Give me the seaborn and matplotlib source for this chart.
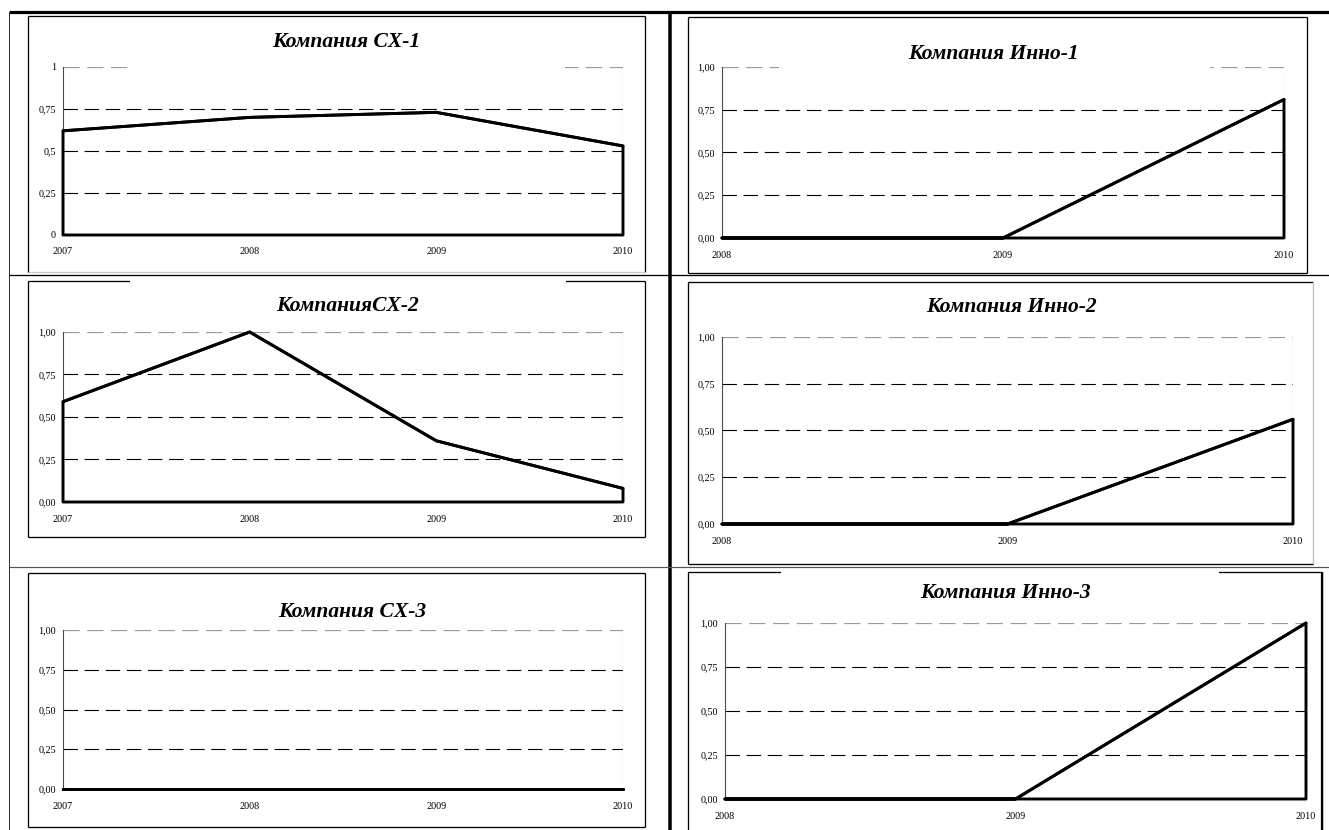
import matplotlib
matplotlib.use("Agg")
import matplotlib.pyplot as plt
from matplotlib.lines import Line2D
from matplotlib.patches import Rectangle
import pandas as pd
import seaborn as sns

# ---- data -------------------------------------------------------------
years_cx = [2007, 2008, 2009, 2010]
years_inno = [2008, 2009, 2010]

cx1 = [0.62, 0.70, 0.73, 0.53]
cx2 = [0.59, 1.00, 0.36, 0.08]
cx3 = [0.00, 0.00, 0.00, 0.00]
inno1 = [0.00, 0.00, 0.81]
inno2 = [0.00, 0.00, 0.56]
inno3 = [0.00, 0.00, 1.00]

title_cx1 = "Компания CX-1"
title_cx2 = "КомпанияCX-2"
title_cx3 = "Компания CX-3"
title_inno1 = "Компания Инно-1"
title_inno2 = "Компания Инно-2"
title_inno3 = "Компания Инно-3"

y_ticks = [0, 0.25, 0.5, 0.75, 1.0]
y_labels_short = ["0", "0,25", "0,5", "0,75", "1"]
y_labels_full = ["0,00", "0,25", "0,50", "0,75", "1,00"]

# ---- style ------------------------------------------------------------
sns.set_style("white")
plt.rcParams["font.family"] = ["Liberation Serif", "DejaVu Serif"]
plt.rcParams["text.color"] = "black"
plt.rcParams["xtick.color"] = "black"
plt.rcParams["ytick.color"] = "black"

W, H = 1329, 830
fig = plt.figure(figsize=(W / 100, H / 100), dpi=100)
fig.patch.set_facecolor("white")

DASH = (0, (13, 6))


def fx(x):
    return x / W


def fy(y):
    return 1 - y / H


def pt(px):
    return px * 0.72


def seg(x0, y0, x1, y1, lw, color="black", z=2):
    fig.add_artist(Line2D([fx(x0), fx(x1)], [fy(y0), fy(y1)], lw=pt(lw),
                          color=color, solid_capstyle="butt", zorder=z))


def box(x0, y0, x1, y1, colors=("black", "black", "black", "black"), lw=1.3):
    top, right, bottom, left = colors
    seg(x0, y0, x1, y0, lw, top)
    seg(x1, y0, x1, y1, lw, right)
    seg(x0, y1, x1, y1, lw, bottom)
    seg(x0, y0, x0, y1, lw, left)


def blank(x0, y0, x1, y1):
    fig.add_artist(Rectangle((fx(x0), fy(y1)), (x1 - x0) / W, (y1 - y0) / H,
                             transform=fig.transFigure, facecolor="white",
                             edgecolor="none", zorder=3))


def panel(rect, years, values, ylabels, title, title_xy):
    x0, y0, x1, y1 = rect
    ax = fig.add_axes([fx(x0), fy(y1), (x1 - x0) / W, (y1 - y0) / H])
    ax.set_facecolor("none")
    df = pd.DataFrame({"Год": years, "Значение": values})

    # gridlines and plot-area border
    for g in y_ticks[1:-1]:
        ax.axhline(g, color="black", lw=0.8, ls=DASH, zorder=1)
    ax.axhline(1.0, color="#9a9a9a", lw=0.9, ls=DASH, zorder=1)
    ax.axvline(years[-1], color="#b4b4b4", lw=0.8, zorder=1)

    # area outline: baseline, end edges and the series line
    ax.fill_between(years, values, 0, facecolor="none", edgecolor="black",
                    lw=2.1, zorder=3, clip_on=False)
    sns.lineplot(data=df, x="Год", y="Значение", ax=ax, color="black",
                 lw=2.1, zorder=4, clip_on=False)

    ax.set_xlim(years[0], years[-1])
    ax.set_ylim(0, 1)
    ax.set_xticks(years)
    ax.set_xticklabels([str(y) for y in years])
    ax.set_yticks(y_ticks)
    ax.set_yticklabels(ylabels)
    ax.set_xlabel("")
    ax.set_ylabel("")
    for side in ("top", "right", "bottom"):
        ax.spines[side].set_visible(False)
    ax.spines["left"].set_color("#4a4a4a")
    ax.spines["left"].set_linewidth(0.8)
    ax.tick_params(axis="both", direction="out", length=3, width=0.8,
                   color="#4a4a4a", labelsize=7.3, labelcolor="black")
    ax.tick_params(axis="x", pad=6)
    ax.tick_params(axis="y", pad=2)
    ax.grid(False)

    fig.text(fx(title_xy[0]), fy(title_xy[1]), title, ha="center",
             va="baseline", fontsize=15.5, fontweight="bold",
             fontstyle="italic", color="black", zorder=5)
    return ax


# ---- table grid ---------------------------------------------------------
seg(9, 12, W, 12, 3.2)
seg(9, 12, 9, H, 1.0, "#333333")
seg(669.5, 12, 669.5, H, 3.5)
seg(9, 275.5, W, 275.5, 1.3)
seg(9, 567, W, 567, 1.2, "#555555")

# ---- chart frames -----------------------------------------------------
box(28, 16, 645, 272, colors=("black", "black", "#c8c8c8", "black"))
box(28, 281, 645, 537)
box(28, 573, 645, 827)
box(688, 17, 1307, 273)
box(688, 282, 1313, 564, colors=("black", "#c0c0c0", "black", "black"))
box(688, 572, 1322, 834, colors=("black", "black", "black", "black"))
seg(1322, 572, 1322, H, 2.2)

# white strips behind titles
blank(133, 24, 565, 72)
blank(779, 24, 1210, 72)
blank(130, 278, 566, 322)
blank(781, 569, 1219, 612)

# ---- panels -------------------------------------------------------------
panel((63, 67, 623, 235), years_cx, cx1, y_labels_short, title_cx1, (346, 47))
panel((63, 332, 623, 502), years_cx, cx2, y_labels_full, title_cx2, (348, 311))
panel((63, 630, 623, 789), years_cx, cx3, y_labels_full, title_cx3, (352, 617))
panel((722, 67, 1284, 238), years_inno, inno1, y_labels_full, title_inno1, (993, 59))
panel((722, 337, 1293, 524), years_inno, inno2, y_labels_full, title_inno2, (1011, 312))
panel((725, 623, 1306, 799), years_inno, inno3, y_labels_full, title_inno3, (1005, 598))

fig.savefig("out.png", dpi=100, facecolor="white")
